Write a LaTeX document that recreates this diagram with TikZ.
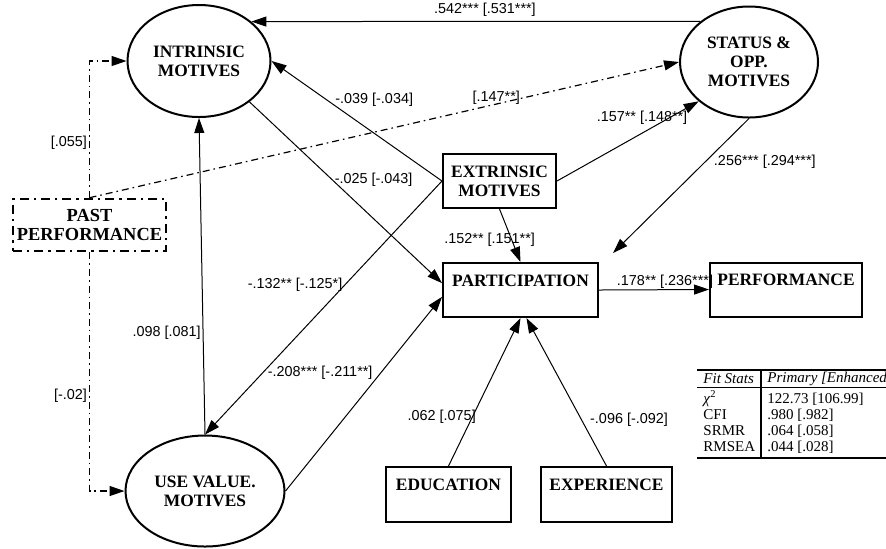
\documentclass[tikz,border=0pt]{standalone}
\usepackage{fontspec}
\setmainfont{Liberation Serif}
\newfontfamily\coeffont{Liberation Sans}
\usetikzlibrary{arrows.meta,shapes.geometric}

\begin{document}
\begin{tikzpicture}[x=0.5pt, y=-0.5pt, >={Triangle[length=7.5pt,width=5pt]},
  latent/.style={ellipse, draw, line width=1pt, inner sep=0pt, align=center, font=\bfseries\fontsize{8.7}{9.5}\selectfont},
  observed/.style={rectangle, draw, line width=1pt, inner sep=0pt, align=center, font=\bfseries\fontsize{8.7}{9.5}\selectfont},
  effect/.style={->, line width=0.5pt},
  ctrlpath/.style={->, line width=0.6pt, dash pattern=on 3.5pt off 2pt on 0.8pt off 2pt},
  coef/.style={font=\coeffont\fontsize{7.2}{8}\selectfont, inner sep=1pt},
  fitrow/.style={anchor=west, inner sep=0pt, font=\fontsize{7.5}{8}\selectfont}]
\useasboundingbox (0,0) rectangle (886,548);
\node[latent, minimum width=71.5pt, minimum height=56pt] (intrinsic) at (199,61) {INTRINSIC\\MOTIVES};
\node[latent, minimum width=69pt, minimum height=55.5pt] (status) at (749,62) {STATUS \&\\OPP.\\MOTIVES};
\node[latent, minimum width=79.5pt, minimum height=55.5pt] (usevalue) at (205,491) {USE VALUE.\\MOTIVES};
\node[observed, line width=1.3pt, dash pattern=on 4.5pt off 2.5pt on 1.2pt off 2.5pt, minimum width=76.5pt, minimum height=26pt, font=\bfseries\fontsize{9.2}{9.6}\selectfont] (past) at (89.5,225) {PAST\\PERFORMANCE};
\node[observed, minimum width=56.5pt, minimum height=27pt] (extrinsic) at (499.5,181) {EXTRINSIC\\MOTIVES};
\node[observed, minimum width=77.5pt, minimum height=27pt] (particip) at (520.5,290) {PARTICIPATION\\\mbox{}};
\node[observed, minimum width=76pt, minimum height=27pt] (perform) at (786,289.5) {PERFORMANCE\\\mbox{}};
\node[observed, minimum width=62.5pt, minimum height=27.5pt] (educ) at (448.5,494.5) {EDUCATION\\\mbox{}};
\node[observed, minimum width=65.5pt, minimum height=27.5pt] (exper) at (606.5,494.5) {EXPERIENCE\\\mbox{}};
\coordinate (stattip) at (613,253);

\draw[effect] (status.140) -- (intrinsic.37) node[coef, pos=.48, above=1pt] {.542*** [.531***]};
\draw[ctrlpath] (past.north) |- (intrinsic.west) node[coef, pos=.2, left] {[.055]};
\draw[ctrlpath] (past.south) |- (usevalue.west) node[coef, pos=.3, left] {[-.02]};
\draw[ctrlpath] (past.north) -- (status.west) node[coef, pos=.69, yshift=3pt] {[.147**]};
\draw[effect] (extrinsic.west) -- (intrinsic.east) node[coef, pos=.64, anchor=west, yshift=2pt] {-.039 [-.034]};
\draw[effect] (intrinsic.-39) -- (particip.175) node[coef, pos=.43, anchor=west] {-.025 [-.043]};
\draw[effect] (extrinsic.west) -- (usevalue.north) node[coef, pos=.41, anchor=east] {-.132** [-.125*]};
\draw[effect] (usevalue.north) -- (intrinsic.south) node[coef, pos=.32, anchor=east] {.098 [.081]};
\draw[effect] (usevalue.east) -- (particip.185) node[coef, pos=.61, anchor=east, xshift=-3pt] {-.208*** [-.211**]};
\draw[effect] (extrinsic.east) -- (status.218) node[coef, pos=.6, above=3pt] {.157** [.148**]};
\draw[effect] (extrinsic.south) -- (particip.north) node[coef, pos=.58, xshift=-11pt] {.152** [.151**]};
\draw[effect] (status.south) -- (stattip) node[coef, pos=.32, anchor=west, xshift=3pt] {.256*** [.294***]};
\draw[effect] (particip.east) -- (perform.west) node[coef, pos=.6, yshift=4pt] {.178** [.236***]};
\draw[effect] (educ.north) -- (particip.-90) node[coef, pos=.33, anchor=east, xshift=3pt] {.062 [.075]};
\draw[effect] (exper.north) -- (particip.-78) node[coef, pos=.31, anchor=west, xshift=3pt] {-.096 [-.092]};

\draw[line width=1.2pt] (697,370) -- (886,370);
\draw[line width=0.4pt] (697,387) -- (886,387);
\draw[line width=1.2pt] (697,458) -- (886,458);
\draw[line width=1pt] (761,370) -- (761,458);
\node[fitrow] (fithead) at (703,379) {\itshape Fit Stats};
\node[fitrow] (primhead) at (767,379) {\itshape Primary [Enhanced};
\foreach \y/\stat/\val in {399/{\textit{χ}\textsuperscript{2}}/122.73 [106.99], 415/CFI/.980 [.982], 431/SRMR/.064 [.058], 447/RMSEA/.044 [.028]}{
  \node[fitrow] (stat\y) at (703,\y) {\stat};
  \node[fitrow] (val\y) at (767,\y) {\val};
}
\end{tikzpicture}
\end{document}
